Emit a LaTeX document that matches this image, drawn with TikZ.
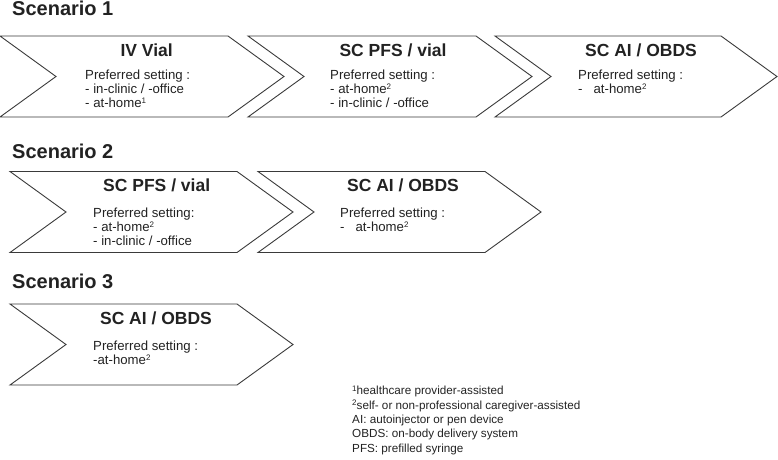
\documentclass[tikz,border=0pt]{standalone}
\usepackage{fontspec}
\setmainfont{Liberation Sans}
\definecolor{ink}{HTML}{222222}
\definecolor{edge}{HTML}{3A3A3A}
\newcommand\supnum[1]{\raisebox{0.3em}{\fontsize{8}{8}\selectfont #1}}
\tikzset{
    chevline/.style={draw=edge, line width=0.9pt},
    chevron/.pic={\draw[chevline] (0,0) -- (#1,0) -- (#1+56,40.5) -- (#1,81) -- (0,81) -- (56,40.5) -- cycle;},
    scen/.style={anchor=base west, inner sep=0pt, text=ink, font=\fontsize{20}{22}\selectfont\bfseries},
    head/.style={anchor=base, inner sep=0pt, text=ink, font=\fontsize{17.5}{20}\selectfont\bfseries},
    body/.style={anchor=north west, inner sep=0pt, align=left, text=ink, font=\fontsize{13.2}{14}\selectfont},
    note/.style={anchor=north west, inner sep=0pt, align=left, text=ink, font=\fontsize{11.7}{14.4}\selectfont}
}
\begin{document}
\begin{tikzpicture}[x=1pt,y=-1pt]
    \useasboundingbox (0,0) rectangle (778,459);
    % scenario 1
    \node[scen] (sc1) at (12,15.5) {Scenario 1};
    \pic at (0,36) {chevron=228};
    \pic at (248,36) {chevron=228};
    \pic at (495,36) {chevron=226};
    \node[head] (h11) at (146.7,56.7) {IV Vial};
    \node[head] (h12) at (393,56.7) {SC PFS / vial};
    \node[head] (h13) at (641,56.7) {SC AI / OBDS};
    \node[body] (b11) at (85,69.4) {Preferred setting :\\- in-clinic / -office\\- at-home\supnum{1}};
    \node[body] (b12) at (330,69.4) {Preferred setting :\\- at-home\supnum{2}\\- in-clinic / -office};
    \node[body] (b13) at (578,69.4) {Preferred setting :\\-\ \ \ at-home\supnum{2}};
    % scenario 2
    \node[scen] (sc2) at (12,158) {Scenario 2};
    \pic at (10,171.5) {chevron=227};
    \pic at (258,171.5) {chevron=227};
    \node[head] (h21) at (156.7,191.7) {SC PFS / vial};
    \node[head] (h22) at (403,191.7) {SC AI / OBDS};
    \node[body] (b21) at (93,207.5) {Preferred setting:\\- at-home\supnum{2}\\- in-clinic / -office};
    \node[body] (b22) at (340,207.5) {Preferred setting :\\-\ \ \ at-home\supnum{2}};
    % scenario 3
    \node[scen] (sc3) at (12,288) {Scenario 3};
    \pic at (10,304) {chevron=227};
    \node[head] (h31) at (156,324.3) {SC AI / OBDS};
    \node[body] (b31) at (93,340.4) {Preferred setting :\\-at-home\supnum{2}};
    % footnotes
    \node[note] (notes) at (352,385.5) {\supnum{1}healthcare provider-assisted\\
        \supnum{2}self- or non-professional caregiver-assisted\\
        AI: autoinjector or pen device\\
        OBDS: on-body delivery system\\
        PFS: prefilled syringe};
\end{tikzpicture}
\end{document}
